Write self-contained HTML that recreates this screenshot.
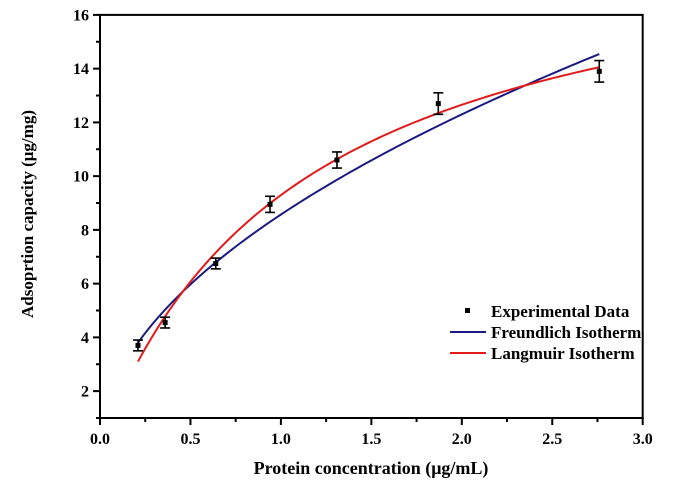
<!DOCTYPE html>
<html><head><meta charset="utf-8"><style>
body{margin:0;background:#fff}
svg text{font-family:"Liberation Serif",serif;font-weight:bold;fill:#000}
</style></head><body>
<svg width="684" height="496" viewBox="0 0 684 496">
<g id="axes"></g><g id="series"></g><g id="legend"></g>
</svg>
<script>
const xTicks=[0,0.5,1.0,1.5,2.0,2.5,3.0];
const xTickLabels=["0.0","0.5","1.0","1.5","2.0","2.5","3.0"];
const yTicks=[2,4,6,8,10,12,14,16];
const yTickLabels=["2","4","6","8","10","12","14","16"];
const expC=[0.21,0.36,0.64,0.94,1.31,1.87,2.76];
const expQ=[3.7,4.55,6.75,8.95,10.6,12.7,13.9];
const expErr=[0.2,0.2,0.2,0.3,0.3,0.4,0.4];
const freundlichParams=[8.57,0.521];
const langmuirParams=[19.82,0.883];
const curveRange=[0.21,2.76];
const NS="http://www.w3.org/2000/svg";
const X0=100,X1=642.7,YB=418,YT=14.9,xmin=0,xmax=3,ymin=1,ymax=16;
const sx=v=>X0+(v-xmin)/(xmax-xmin)*(X1-X0);
const sy=v=>YB-(v-ymin)/(ymax-ymin)*(YB-YT);
function mk(t,a,p){const e=document.createElementNS(NS,t);for(const k in a)e.setAttribute(k,a[k]);p.appendChild(e);return e;}
const ax=document.getElementById('axes'),se=document.getElementById('series'),lg=document.getElementById('legend');
let f=mk('rect',{x:X0,y:YT,width:X1-X0,height:YB-YT,fill:'none',stroke:'#000','stroke-width':2},ax);

xTicks.forEach((v,i)=>{const x=sx(v);
 let t=mk('line',{x1:x,x2:x,y1:YB,y2:YB+7,stroke:'#000','stroke-width':2},ax);
 
 if(i<xTicks.length-1){let m=mk('line',{x1:sx(v+0.25),x2:sx(v+0.25),y1:YB,y2:YB+4,stroke:'#000','stroke-width':2},ax);
 }
 let l=mk('text',{x:x,y:YB+26,'text-anchor':'middle','font-size':16},ax);l.textContent=xTickLabels[i];
 });
yTicks.forEach((v,i)=>{const y=sy(v);
 let t=mk('line',{x1:X0-7,x2:X0,y1:y,y2:y,stroke:'#000','stroke-width':2},ax);
 
 let m=mk('line',{x1:X0-4,x2:X0,y1:sy(v-1),y2:sy(v-1),stroke:'#000','stroke-width':2},ax);
 
 let l=mk('text',{x:X0-11,y:y+5.5,'text-anchor':'end','font-size':16},ax);l.textContent=yTickLabels[i];
 });
let xt=mk('text',{x:371,y:474,'text-anchor':'middle','font-size':18},ax);xt.textContent='Protein concentration (μg/mL)';

let yt=mk('text',{x:0,y:0,'text-anchor':'middle','font-size':17,transform:'translate(33,214) rotate(-90)'},ax);yt.textContent='Adsoprtion capacity (μg/mg)';

function curve(fn,color,name){let d='';for(let i=0;i<=100;i++){const c=curveRange[0]+(curveRange[1]-curveRange[0])*i/100;d+=(i?'L':'M')+sx(c).toFixed(2)+','+sy(fn(c)).toFixed(2);}
 let p=mk('path',{d:d,fill:'none',stroke:color,'stroke-width':2},se);}
curve(c=>freundlichParams[0]*Math.pow(c,freundlichParams[1]),'#1a1a80','freundlich-curve');
curve(c=>langmuirParams[0]*langmuirParams[1]*c/(1+langmuirParams[1]*c),'#e01b1b','langmuir-curve');
expC.forEach((c,i)=>{const x=sx(c),y=sy(expQ[i]),y1=sy(expQ[i]+expErr[i]),y2=sy(expQ[i]-expErr[i]);
 let g=mk('g',{},se);
 mk('line',{x1:x,x2:x,y1:y1,y2:y2,stroke:'#000','stroke-width':1.6},g);
 mk('line',{x1:x-5,x2:x+5,y1:y1,y2:y1,stroke:'#000','stroke-width':1.6},g);
 mk('line',{x1:x-5,x2:x+5,y1:y2,y2:y2,stroke:'#000','stroke-width':1.6},g);
 mk('rect',{x:x-2.5,y:y-2.5,width:5,height:5,fill:'#000'},g);});
const items=[['Experimental Data','marker'],['Freundlich Isotherm','#1a1a80'],['Langmuir Isotherm','#e01b1b']];
const rows=[311,332,353];
items.forEach((it,i)=>{const y=rows[i];let g=mk('g',{},lg);
 if(it[1]==='marker')mk('rect',{x:465,y:y-3,width:5,height:5,fill:'#000'},g);
 else mk('line',{x1:450,x2:486,y1:y,y2:y,stroke:it[1],'stroke-width':2},g);
 let t=mk('text',{x:491,y:y+6,'font-size':17},g);t.textContent=it[0];});
</script>
</body></html>
